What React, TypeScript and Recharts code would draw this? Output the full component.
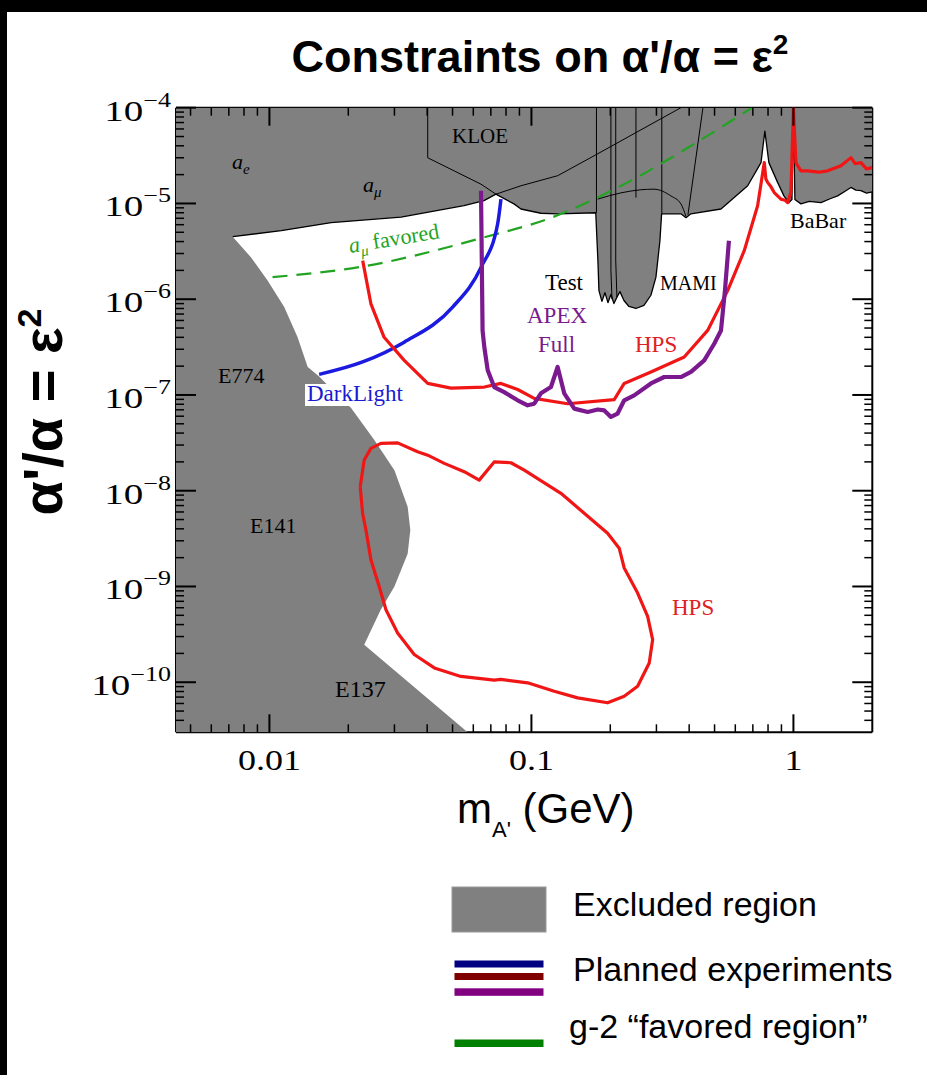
import React from 'react';
import { ComposedChart, Scatter, XAxis, YAxis } from 'recharts';

const X_MIN = 0.0044;
const X_MAX = 2;
const Y_MIN = 3e-11;
const Y_MAX = 1e-4;

const p = (x: number, y: number) => ({ x, y });

const xMajorTicks = [0.01, 0.1, 1];
const yMajorTicks = [1e-10, 1e-9, 1e-8, 1e-7, 1e-6, 1e-5, 1e-4];
const minorMantissas = [2, 3, 4, 5, 6, 7, 8, 9];

// lower edge of the excluded region, left to right (a_e, a_mu, KLOE, Test, MAMI, BaBar)
const upperBoundary = [
  p(0.00724, 4.5e-6), p(0.0111, 5.2e-6), p(0.0172, 6.3e-6), p(0.0318, 7.2e-6), p(0.0553, 9.5e-6),
  p(0.0659, 1.07e-5), p(0.0732, 1.25e-5), p(0.0858, 9.9e-6), p(0.0912, 8.75e-6), p(0.1087, 7.9e-6),
  p(0.126, 7.8e-6), p(0.176, 8.0e-6),
  p(0.1794, 2.5e-6), p(0.181, 1.23e-6), p(0.1858, 9.5e-7), p(0.1908, 1.17e-6), p(0.1959, 9.2e-7),
  p(0.2011, 1.12e-6), p(0.2065, 9.0e-7), p(0.212, 1.05e-6),
  p(0.2177, 1.2e-6), p(0.2255, 9.7e-7), p(0.2356, 8.4e-7), p(0.2506, 8.0e-7), p(0.2688, 8.6e-7),
  p(0.2858, 1.1e-6), p(0.2987, 1.7e-6), p(0.3094, 4.1e-6), p(0.314, 7.8e-6),
  p(0.372, 7.8e-6), p(0.389, 7.1e-6), p(0.406, 7.8e-6), p(0.529, 8.75e-6), p(0.669, 1.53e-5),
  p(0.752, 2.67e-5), p(0.778, 5.7e-5), p(0.806, 2.67e-5), p(0.87, 1.66e-5), p(0.92, 1.2e-5),
  p(0.961, 1.02e-5), p(0.987, 1.1e-5), p(1.0, 9e-5), p(1.013, 1.1e-5), p(1.068, 9.9e-6),
  p(1.15, 1.05e-5), p(1.274, 1.02e-5), p(1.38, 1.12e-5), p(1.475, 1.2e-5), p(1.58, 1.35e-5),
  p(1.658, 1.47e-5), p(1.73, 1.38e-5), p(1.81, 1.36e-5), p(1.9, 1.28e-5), p(2.0, 1.32e-5),
];

// beam dump edge (E774, E141, E137), top to bottom
const leftBoundary = [
  p(0.00724, 4.5e-6), p(0.0085, 2.74e-6), p(0.00984, 1.57e-6), p(0.01139, 8.3e-7), p(0.01281, 4.0e-7),
  p(0.014, 1.96e-7), p(0.01545, 1.57e-7), p(0.01717, 1.17e-7), p(0.0205, 7.3e-8), p(0.0251, 3.4e-8),
  p(0.03, 1.64e-8), p(0.0337, 6.8e-9), p(0.0345, 3.9e-9), p(0.0337, 2.2e-9), p(0.03, 1.0e-9),
  p(0.0266, 5.7e-10), p(0.023, 2.47e-10), p(0.0571, 3e-11),
];

const kloeEdge = [p(0.0402, 1e-4), p(0.0402, 3.0e-5), p(0.0642, 1.59e-5), p(0.0732, 1.25e-5)];
const kloeRise = [p(0.0732, 1.25e-5), p(0.0912, 1.53e-5), p(0.126, 1.95e-5), p(0.1732, 3.14e-5), p(0.372, 1e-4)];
const mamiArc = [p(0.179, 1.11e-5), p(0.2196, 1.29e-5), p(0.2618, 1.39e-5), p(0.2935, 1.41e-5), p(0.3406, 1.2e-5), p(0.372, 9.9e-6), p(0.389, 7.3e-6)];
const testEdges = [
  [p(0.1771, 1e-4), p(0.1771, 8e-6)],
  [p(0.2011, 1e-4), p(0.2011, 2e-6), p(0.203, 1.0e-6)],
  [p(0.2098, 1e-4), p(0.2098, 2.5e-6), p(0.212, 1.05e-6)],
  [p(0.2506, 1e-4), p(0.2506, 1.15e-5)],
  [p(0.3145, 1e-4), p(0.3145, 7.8e-6)],
  [p(0.4515, 1e-4), p(0.3957, 7.6e-6)],
];

const aMuFavored = [p(0.01028, 1.7e-6), p(0.023, 2.21e-6), p(0.0661, 4.43e-6), p(0.1153, 6.88e-6), p(0.233, 1.66e-5), p(0.4063, 3.99e-5), p(0.695, 1e-4)];

const darkLight = [p(0.01548, 1.64e-7), p(0.02268, 2.21e-7), p(0.03269, 3.56e-7), p(0.05003, 8.26e-7), p(0.0642, 2.15e-6), p(0.0743, 6.1e-6), p(0.0765, 1.11e-5)];

const hpsUpper = [
  p(0.0227, 2.53e-6), p(0.0244, 8.95e-7), p(0.0274, 4.0e-7), p(0.0327, 2.3e-7), p(0.0402, 1.32e-7),
  p(0.0493, 1.18e-7), p(0.0661, 1.21e-7), p(0.0765, 1.32e-7), p(0.0886, 1.14e-7), p(0.1025, 9.2e-8),
  p(0.1375, 8.1e-8), p(0.207, 8.95e-8), p(0.226, 1.32e-7), p(0.2858, 1.74e-7), p(0.383, 2.49e-7),
  p(0.4706, 4.72e-7), p(0.561, 1.23e-6), p(0.649, 3.21e-6), p(0.73, 9.46e-6), p(0.774, 2.67e-5),
  p(0.785, 1.8e-5), p(0.797, 1.66e-5), p(0.82, 1.5e-5), p(0.845, 1.3e-5), p(0.87, 1.2e-5), p(0.896, 1.11e-5),
  p(0.93, 1.08e-5), p(0.95, 1.02e-5), p(0.978, 1.3e-5), p(1.0, 1e-4), p(1.022, 2.67e-5), p(1.068, 2.19e-5),
  p(1.133, 2.19e-5), p(1.25, 2.12e-5), p(1.35, 2.19e-5), p(1.518, 2.47e-5), p(1.658, 3.01e-5),
  p(1.72, 2.6e-5), p(1.81, 2.67e-5), p(1.9, 2.3e-5), p(2.0, 2.37e-5),
];

const apexFull = [
  p(0.0642, 1.36e-5), p(0.0651, 4.7e-7), p(0.0661, 3.16e-7), p(0.0681, 1.81e-7), p(0.0721, 1.21e-7),
  p(0.0787, 1.07e-7), p(0.0886, 8.8e-8), p(0.0967, 7.8e-8), p(0.1025, 8.1e-8), p(0.1087, 1.04e-7),
  p(0.1187, 1.21e-7), p(0.1259, 1.96e-7), p(0.1334, 1.04e-7), p(0.1457, 7.2e-8), p(0.1639, 6.65e-8),
  p(0.179, 7.05e-8), p(0.1897, 6.9e-8), p(0.2011, 5.9e-8), p(0.2133, 6.4e-8), p(0.226, 8.8e-8),
  p(0.2468, 9.9e-8), p(0.2858, 1.32e-7), p(0.3213, 1.54e-7), p(0.372, 1.54e-7), p(0.4063, 1.74e-7),
  p(0.4566, 2.3e-7), p(0.4985, 3.43e-7), p(0.529, 4.72e-7), p(0.5478, 1.23e-6), p(0.5673, 4.08e-6),
];

const hpsLoop = [
  p(0.02221, 1.1e-8), p(0.023, 2.09e-8), p(0.0244, 2.77e-8), p(0.02664, 3.12e-8), p(0.03085, 3.16e-8),
  p(0.03678, 2.55e-8), p(0.0402, 2.35e-8), p(0.0465, 1.93e-8), p(0.0554, 1.58e-8), p(0.0632, 1.29e-8),
  p(0.0721, 2.0e-8), p(0.0835, 1.96e-8), p(0.0939, 1.64e-8), p(0.1296, 9.39e-9), p(0.1953, 3.6e-9),
  p(0.2163, 2.51e-9), p(0.226, 1.56e-9), p(0.2543, 8.54e-10), p(0.2777, 4.87e-10), p(0.2902, 2.79e-10),
  p(0.2816, 1.59e-10), p(0.2543, 9.08e-11), p(0.226, 7.15e-11), p(0.1953, 6.1e-11), p(0.1501, 6.87e-11),
  p(0.1222, 8.06e-11), p(0.0967, 9.86e-11), p(0.0765, 1.07e-10), p(0.0721, 1.05e-10), p(0.0538, 1.15e-10),
  p(0.0426, 1.41e-10), p(0.0357, 1.95e-10), p(0.03085, 3.27e-10), p(0.02785, 5.71e-10), p(0.02624, 1.0e-9),
  p(0.0244, 1.9e-9), p(0.02335, 3.9e-9), p(0.02268, 5.82e-9), p(0.02221, 1.1e-8),
];

const excluded = [
  p(X_MIN, Y_MAX), p(X_MAX, Y_MAX),
  ...[...upperBoundary].reverse(),
  ...leftBoundary.slice(1),
  p(X_MIN, Y_MIN),
];

const xTicks = [
  ...xMajorTicks,
  ...[0.001, 0.01, 0.1, 1].flatMap((d) => minorMantissas.map((m) => m * d)),
].filter((v) => v > X_MIN && v < X_MAX * 0.99);

const yTicks = [
  ...yMajorTicks,
  ...[1e-11, 1e-10, 1e-9, 1e-8, 1e-7, 1e-6, 1e-5].flatMap((d) => minorMantissas.map((m) => m * d)),
].filter((v) => v > Y_MIN * 1.02 && v <= Y_MAX * 1.0001);

const isMajor = (v: number) => Math.abs(Math.log10(v) - Math.round(Math.log10(v))) < 1e-6;

const serif = '"Liberation Serif", "DejaVu Serif", serif';
const sans = '"Liberation Sans", Arial, sans-serif';

function BottomTick(props: any) {
  const { x, y, payload } = props;
  const major = isMajor(payload.value);
  return (
    <g>
      <line x1={x} x2={x} y1={y} y2={y - (major ? 18 : 8)} stroke="#000" strokeWidth={major ? 2 : 1.5} />
      {major && (
        <text transform={`translate(${x},${y + 38}) scale(1.2,1)`} textAnchor="middle" fontFamily={serif} fontSize={30} fill="#000">
          {String(payload.value)}
        </text>
      )}
    </g>
  );
}

function TopTick(props: any) {
  const { x, y, payload } = props;
  const major = isMajor(payload.value);
  return <line x1={x} x2={x} y1={y} y2={y + (major ? 18 : 8)} stroke="#000" strokeWidth={major ? 2 : 1.5} />;
}

function LeftTick(props: any) {
  const { x, y, payload } = props;
  const major = isMajor(payload.value);
  const exp = Math.round(Math.log10(payload.value));
  return (
    <g>
      <line x1={x} x2={x + (major ? 20 : 8)} y1={y} y2={y} stroke="#000" strokeWidth={major ? 2 : 1.5} />
      {major && (
        <text transform={`translate(${x - 5},${y + 13}) scale(1.3,1)`} textAnchor="end" fontFamily={serif} fontSize={30} fill="#000">
          10<tspan dy={-14} fontSize={20}>{'\u2212' + Math.abs(exp)}</tspan>
        </text>
      )}
    </g>
  );
}

function RightTick(props: any) {
  const { x, y, payload } = props;
  const major = isMajor(payload.value);
  return <line x1={x} x2={x - (major ? 20 : 8)} y1={y} y2={y} stroke="#000" strokeWidth={major ? 2 : 1.5} />;
}

const NoDot = () => null;

function curve(key: string, data: any[], stroke: string, width: number, extra: any = {}, joint: any = 'linear') {
  return (
    <Scatter
      key={key}
      data={data}
      shape={NoDot}
      line={{ stroke, strokeWidth: width, fill: 'none', strokeLinejoin: 'round', ...extra }}
      lineType="joint"
      lineJointType={joint}
      isAnimationActive={false}
    />
  );
}

export default function App() {
  return (
    <div style={{ position: 'absolute', top: 0, left: 0, width: 927, height: 1075, background: '#fff', overflow: 'hidden' }}>
      <ComposedChart width={927} height={1075} margin={{ top: 106.7, right: 53.7, bottom: 341.7, left: 175 }}>
        <XAxis type="number" dataKey="x" scale="log" domain={[X_MIN, X_MAX]} allowDataOverflow ticks={xTicks} interval={0}
          tickLine={false} tickSize={0} tickMargin={0} height={1} axisLine={{ stroke: '#000', strokeWidth: 2 }} tick={<BottomTick />} />
        <XAxis xAxisId="top" orientation="top" type="number" dataKey="x" scale="log" domain={[X_MIN, X_MAX]} allowDataOverflow ticks={xTicks} interval={0}
          tickLine={false} tickSize={0} tickMargin={0} height={1} axisLine={{ stroke: '#000', strokeWidth: 2 }} tick={<TopTick />} />
        <YAxis type="number" dataKey="y" scale="log" domain={[Y_MIN, Y_MAX]} allowDataOverflow ticks={yTicks} interval={0}
          tickLine={false} tickSize={0} tickMargin={0} width={1} axisLine={{ stroke: '#000', strokeWidth: 2 }} tick={<LeftTick />} />
        <YAxis yAxisId="right" orientation="right" type="number" dataKey="y" scale="log" domain={[Y_MIN, Y_MAX]} allowDataOverflow ticks={yTicks} interval={0}
          tickLine={false} tickSize={0} tickMargin={0} width={1} axisLine={{ stroke: '#000', strokeWidth: 2 }} tick={<RightTick />} />
        <Scatter
          data={excluded}
          shape={NoDot}
          line={{ fill: '#808080', stroke: 'none' }}
          lineType="joint"
          isAnimationActive={false}
        />
        {curve('upper', upperBoundary, '#000', 1.3)}
        {curve('kloe1', kloeEdge, '#000', 1)}
        {curve('kloe2', kloeRise, '#000', 1)}
        {curve('arc', mamiArc, '#000', 1, {}, 'monotoneX')}
        {testEdges.map((e, i) => curve('t' + i, e, '#000', 1))}
        {curve('g2', aMuFavored, '#22a322', 2.2, { strokeDasharray: '15 9' }, 'monotoneX')}
        {curve('dl', darkLight, '#1a1ae0', 3.5, {}, 'monotoneX')}
        {curve('hps1', hpsUpper, '#f01616', 3.2)}
        {curve('apex', apexFull, '#7a1a8e', 4.2)}
        {curve('hps2', hpsLoop, '#f01616', 3.2)}
      </ComposedChart>

      <svg width={927} height={1075} style={{ position: 'absolute', top: 0, left: 0, pointerEvents: 'none' }}>
        <text x={540} y={72} textAnchor="middle" fontFamily={sans} fontWeight="bold" fontSize={45} fill="#000">
          Constraints on α'/α = ε<tspan dy={-18} fontSize={28}>2</tspan>
        </text>
        <text transform="translate(62,412) rotate(-90)" textAnchor="middle" fontFamily={sans} fontWeight="bold" fontSize={56} fill="#000">
          α'/α = ε<tspan dy={-21} fontSize={34}>2</tspan>
        </text>
        <text x={457} y={823} fontFamily={sans} fontSize={42} fill="#000">
          m<tspan dy={14} fontSize={22}>A'</tspan><tspan dy={-14}> (GeV)</tspan>
        </text>

        <g fontFamily={serif} fontSize={22} fill="#000">
          <text x={452} y={143} fontSize={21}>KLOE</text>
          <text x={232} y={169} fontStyle="italic">a<tspan dy={5} fontSize={15}>e</tspan></text>
          <text x={363} y={192} fontStyle="italic">a<tspan dy={5} fontSize={15}>μ</tspan></text>
          <text x={545} y={290} fontSize={23}>Test</text>
          <text x={660} y={290} fontSize={20}>MAMI</text>
          <text x={790} y={228}>BaBar</text>
          <text x={218} y={383}>E774</text>
          <text x={250} y={533}>E141</text>
          <text x={335} y={697} fontSize={24}>E137</text>
          <text x={527} y={323} fontSize={23} fill="#7a1a8e">APEX</text>
          <text x={538} y={352} fontSize={23} fill="#7a1a8e">Full</text>
          <text x={635} y={352} fontSize={23} fill="#e02020">HPS</text>
          <text x={672} y={615} fontSize={23} fill="#e02020">HPS</text>
          <rect x={305} y={384} width={98} height={22} fill="#fff" />
          <text x={307} y={401} fontSize={23} fill="#1a1ad0">DarkLight</text>
          <text transform="translate(350,253) rotate(-9.4)" fill="#22a322">
            <tspan fontStyle="italic">a</tspan><tspan dy={5} fontSize={15} fontStyle="italic">μ</tspan><tspan dy={-5}> favored</tspan>
          </text>
        </g>

        <rect x={452} y={887} width={94} height={45} fill="#808080" stroke="#999" strokeWidth={1} />
        <rect x={454.5} y={960.5} width={89} height={7} fill="#000080" />
        <rect x={454.5} y={973} width={89} height={7} fill="#800000" />
        <rect x={454.5} y={988.3} width={89} height={7.5} fill="#800080" />
        <rect x={454.5} y={1039.5} width={89} height={7.5} fill="#008000" />
        <g fontFamily={sans} fontSize={34} fill="#000">
          <text x={573} y={916}>Excluded region</text>
          <text x={573} y={981}>Planned experiments</text>
          <text x={569} y={1038}>g-2 “favored region”</text>
        </g>
      </svg>

      <div style={{ position: 'absolute', top: 0, left: 0, width: 927, height: 12, background: '#000' }} />
      <div style={{ position: 'absolute', top: 0, left: 0, width: 7, height: 1075, background: '#000' }} />
    </div>
  );
}
